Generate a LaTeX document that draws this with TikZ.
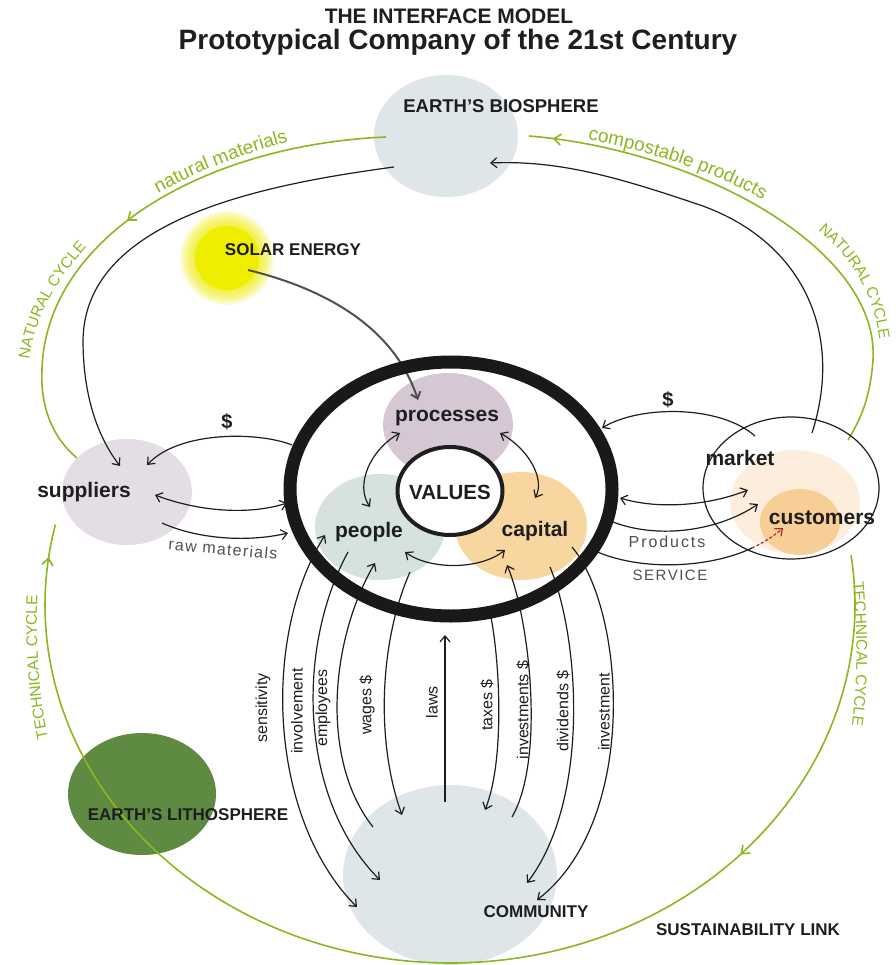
\documentclass[tikz,border=0pt]{standalone}
\usepackage{fontspec}
\setmainfont{Liberation Sans}
\usetikzlibrary{shapes.geometric,arrows.meta,decorations.markings,decorations.text}
\definecolor{cyc}{RGB}{141,183,32}
\definecolor{bio}{RGB}{222,230,234}
\definecolor{supc}{RGB}{229,221,230}
\definecolor{procc}{RGB}{214,199,212}
\definecolor{peopc}{RGB}{213,226,222}
\definecolor{capc}{RGB}{248,214,160}
\definecolor{mktc}{RGB}{253,237,220}
\definecolor{custc}{RGB}{247,206,150}
\definecolor{lithc}{RGB}{94,138,66}
\definecolor{solc}{RGB}{240,238,0}
\definecolor{ink}{RGB}{30,30,30}
\definecolor{greyink}{RGB}{80,80,80}
\definecolor{svc}{RGB}{170,40,40}
\newcommand{\myfs}[1]{\fontsize{#1}{#1}\selectfont}
\begin{document}
\begin{tikzpicture}[x=1pt,y=-1pt,
  blob/.style={ellipse, draw=none, inner sep=0pt, outer sep=0pt},
  biglbl/.style={font=\myfs{21}\bfseries, text=ink, inner sep=0pt},
  capslbl/.style={font=\myfs{17}\bfseries, text=ink, inner sep=0pt},
  vlab/.style={font=\myfs{16}, text=ink, rotate=90, inner sep=0pt},
  conn/.style={draw=ink, line width=1.2pt},
  arr/.style={conn, -{Straight Barb[length=6pt,width=10pt]}},
  darr/.style={conn, {Straight Barb[length=6pt,width=10pt]}-{Straight Barb[length=6pt,width=10pt]}},
  cycline/.style={draw=cyc, line width=1.6pt},
  gmark/.style={postaction={decorate}, decoration={markings, mark=at position #1 with {\arrow[cyc]{Straight Barb[length=7pt,width=11pt]}}}}
]
\path[use as bounding box, fill=white] (0,0) rectangle (895,965);

% titles
\node[font=\myfs{21}\bfseries, text=ink] (title1) at (449,16) {THE INTERFACE MODEL};
\node[font=\myfs{28}\bfseries, text=ink] (title2) at (458,42) {Prototypical Company of the 21st Century};

% background spheres
\node[blob, fill=lithc, minimum width=148pt, minimum height=122pt] (litho) at (142,794) {};
\node[blob, fill=bio, minimum width=144pt, minimum height=122pt] (bio) at (446,136) {};
\node[blob, fill=bio, minimum width=214pt, minimum height=180pt] (comm) at (450,875) {};

% natural cycle (green)
\coordinate (nl1) at (386,137); \coordinate (nl2) at (42,370); \coordinate (nl3) at (77,458);
\draw[cycline, gmark=0.5] (nl1) .. controls (200,145) and (45,240) .. (nl2) .. controls (40,410) and (55,440) .. (nl3);
\coordinate (nr1) at (848,440); \coordinate (nr2) at (873,360); \coordinate (nr3) at (529,136);
\draw[cycline, gmark=0.955] (nr1) .. controls (860,420) and (870,400) .. (nr2) .. controls (880,250) and (700,150) .. (nr3);
% technical cycle (green)
\draw[cycline, postaction={decorate}, decoration={markings,
   mark=at position 0.25 with {\arrow[cyc]{Straight Barb[length=7pt,width=11pt]}},
   mark=at position 0.975 with {\arrow[cyc]{Straight Barb[length=7pt,width=11pt]}}}]
   plot[domain=-8:193, samples=90, smooth] ({450+405*cos(\x)}, {605+358*sin(\x)});

% green texts along the cycles
\path[decorate, decoration={text along path, text align=center,
  text={|\myfs{19}\color{cyc}|natural materials}}]
  (130,210) .. controls (180,178) and (240,152) .. (320,134);
\path[decorate, decoration={text along path, text align=center,
  text={|\myfs{19}\color{cyc}|compostable products}}]
  (545,133) .. controls (640,145) and (730,175) .. (800,222);
\path[decorate, decoration={text along path, text align=center,
  text={|\myfs{15.5}\color{cyc}|NATURAL CYCLE}}]
  (28,372) .. controls (32,320) and (55,280) .. (95,238);
\path[decorate, decoration={text along path, text align=center,
  text={|\myfs{15.5}\color{cyc}|NATURAL CYCLE}}]
  (806,220) .. controls (850,255) and (877,292) .. (881,355);
\path[decorate, decoration={text along path, text align=center,
  text={|\myfs{15.5}\color{cyc}|TECHNICAL CYCLE}}]
  (52,755) .. controls (38,700) and (35,640) .. (38,578);
\path[decorate, decoration={text along path, text align=center,
  text={|\myfs{15.5}\color{cyc}|TECHNICAL CYCLE}}]
  (851,568) .. controls (858,620) and (859,680) .. (850,740);

% solar energy glow
\foreach \r in {47,45,...,33} \fill[solc, opacity=0.14] (227,258) circle[radius=\r pt];
\node[circle, fill=solc, minimum size=64pt, inner sep=0pt] (sun) at (227,258) {};

% company elements
\node[blob, fill=supc, minimum width=130pt, minimum height=106pt] (sup) at (127,492) {};
\node[blob, fill=procc, minimum width=130pt, minimum height=104pt] (proc) at (448,425) {};
\node[blob, fill=peopc, minimum width=130pt, minimum height=106pt] (peop) at (380,527) {};
\node[blob, fill=capc, minimum width=132pt, minimum height=108pt] (capi) at (521,526) {};
\node[ellipse, draw=ink, fill=white, line width=4pt, minimum width=105pt, minimum height=88pt, inner sep=0pt] (vals) at (450,491) {};
\node[blob, fill=mktc, minimum width=130pt, minimum height=104pt] (mktin) at (795,502) {};
\node[blob, fill=custc, minimum width=80pt, minimum height=66pt] (cust) at (800,522) {};
\node[ellipse, draw=ink, line width=1.2pt, minimum width=176pt, minimum height=142pt, inner sep=0pt] (mkt) at (791,488) {};

% connector end points
\coordinate (bioL) at (394,167);   \coordinate (supT) at (120,466);
\coordinate (mktT) at (812,433);   \coordinate (bioR) at (490,163);
\coordinate (sunS) at (248,270);   \coordinate (procTL) at (418,400);
\coordinate (ringL1) at (292,445); \coordinate (supR1) at (147,465);
\coordinate (supR2) at (155,495);  \coordinate (ringL2) at (287,503);
\coordinate (supR3) at (162,523);  \coordinate (ringL3) at (288,533);
\coordinate (procL) at (400,433);  \coordinate (peopT) at (370,507);
\coordinate (procR) at (500,433);  \coordinate (capiT) at (535,498);
\coordinate (peopR) at (405,552);  \coordinate (capiL) at (505,550);
\coordinate (mktL1) at (755,436);  \coordinate (ringR1) at (602,428);
\coordinate (ringR2) at (620,498); \coordinate (mktL2) at (748,490);
\coordinate (ringR3) at (613,522); \coordinate (mktL3) at (758,504);
\coordinate (ringR4) at (593,550); \coordinate (svcm) at (752,548); \coordinate (custL) at (783,528);

% big loops
\draw[arr] (bioL) .. controls (260,185) and (85,220) .. (83,340) .. controls (83,400) and (100,440) .. (supT);
\draw[arr] (mktT) .. controls (845,330) and (800,240) .. (700,205) .. controls (620,178) and (560,160) .. (bioR);
\draw[draw=greyink, line width=2pt, -{Straight Barb[length=6pt,width=10pt]}] (sunS) .. controls (330,290) and (395,330) .. (procTL);

% suppliers side
\draw[arr] (ringL1) .. controls (260,432) and (180,430) .. (supR1);
\draw[darr] (supR2) .. controls (200,512) and (250,515) .. (ringL2);
\draw[arr] (supR3) .. controls (200,540) and (250,542) .. (ringL3);

% inner relations
\draw[darr] (procL) .. controls (370,450) and (355,485) .. (peopT);
\draw[darr] (procR) .. controls (530,450) and (545,480) .. (capiT);
\draw[darr] (peopR) .. controls (430,570) and (480,570) .. (capiL);

% market side
\draw[arr] (mktL1) .. controls (720,405) and (640,405) .. (ringR1);
\draw[darr] (ringR2) .. controls (660,510) and (710,505) .. (mktL2);
\draw[arr] (ringR3) .. controls (660,540) and (720,530) .. (mktL3);
\draw[conn] (ringR4) .. controls (640,572) and (710,568) .. (svcm);
\draw[draw=svc, line width=1.2pt, dashed, dash pattern=on 3pt off 2pt, -{Straight Barb[length=6pt,width=10pt]}] (svcm) .. controls (765,542) and (775,535) .. (custL);

% community flows
\coordinate (a1) at (325,535); \coordinate (a2) at (357,907);
\coordinate (b1) at (348,552); \coordinate (b2) at (380,880);
\coordinate (c1) at (375,563); \coordinate (c2) at (373,827);
\coordinate (d1) at (410,572); \coordinate (d2) at (402,815);
\coordinate (l1) at (445,635); \coordinate (l2) at (445,802);
\coordinate (e1) at (490,612); \coordinate (e2) at (485,810);
\coordinate (f1) at (507,565); \coordinate (f2) at (512,817);
\coordinate (g1) at (550,567); \coordinate (g2) at (527,883);
\coordinate (h1) at (572,547); \coordinate (h2) at (537,900);
\draw[darr] (a1) .. controls (260,640) and (270,820) .. (a2);
\draw[arr] (b1) .. controls (295,650) and (300,800) .. (b2);
\draw[arr] (c2) .. controls (320,760) and (330,640) .. (c1);
\draw[arr] (d1) .. controls (380,640) and (375,740) .. (d2);
\draw[arr] (l2) -- (l1);
\draw[arr] (e1) .. controls (500,660) and (505,760) .. (e2);
\draw[arr] (f2) .. controls (545,760) and (530,620) .. (f1);
\draw[arr] (g1) .. controls (580,640) and (590,800) .. (g2);
\draw[arr] (h1) .. controls (625,610) and (640,820) .. (h2);

% the company ring
\node[ellipse, draw=black!90, line width=13pt, minimum width=322pt, minimum height=254pt, inner sep=0pt] (ring) at (451,489) {};

% labels
\node[capslbl, font=\myfs{18.5}\bfseries] (tbio) at (501,106) {EARTH'S BIOSPHERE};
\node[capslbl] (tsun) at (293,250) {SOLAR ENERGY};
\node[capslbl] (tlith) at (188,815) {EARTH'S LITHOSPHERE};
\node[capslbl] (tcomm) at (536,912) {COMMUNITY};
\node[capslbl] (tsust) at (748,930) {SUSTAINABILITY LINK};
\node[biglbl] (tsup) at (84,492) {suppliers};
\node[biglbl] (tproc) at (447,418) {processes};
\node[biglbl] (tpeop) at (369,532) {people};
\node[biglbl] (tcapi) at (535,531) {capital};
\node[biglbl, font=\myfs{20.5}\bfseries] (tvals) at (450,492) {VALUES};
\node[biglbl] (tmkt) at (740,458) {market};
\node[biglbl] (tcust) at (822,518) {customers};
\node[biglbl, font=\myfs{20}\bfseries] (tdol1) at (227,422) {\$};
\node[biglbl, font=\myfs{20}\bfseries] (tdol2) at (668,400) {\$};
\node[font=\myfs{16}\addfontfeature{LetterSpace=8}, text=greyink, rotate=-5, inner sep=0pt] (traw) at (223,549) {raw materials};
\node[font=\myfs{16}\addfontfeature{LetterSpace=12}, text=greyink, inner sep=0pt] (tprod) at (667,542) {Products};
\node[font=\myfs{15}\addfontfeature{LetterSpace=10}, text=greyink, inner sep=0pt] (tserv) at (670,575) {SERVICE};
\node[vlab] (v1) at (263,708) {sensitivity};
\node[vlab] (v2) at (297,711) {involvement};
\node[vlab] (v3) at (323,708) {employees};
\node[vlab] (v4) at (367,705) {wages \$};
\node[vlab] (v5) at (432,702) {laws};
\node[vlab] (v6) at (487,705) {taxes \$};
\node[vlab] (v7) at (523,710) {investments \$};
\node[vlab] (v8) at (563,711) {dividends \$};
\node[vlab] (v9) at (604,712) {investment};
\end{tikzpicture}
\end{document}
